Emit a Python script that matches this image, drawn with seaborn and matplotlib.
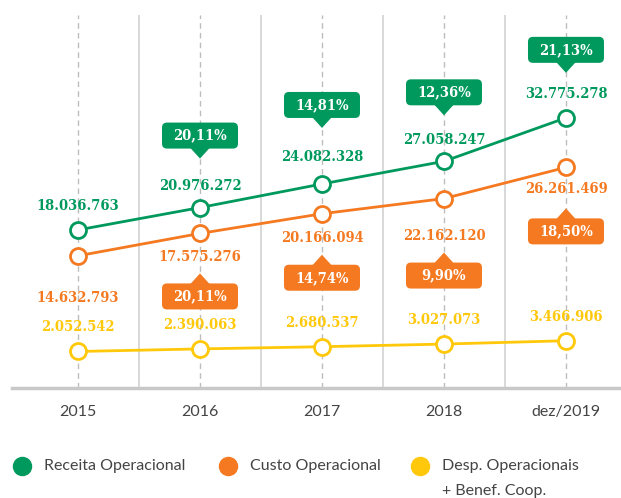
import numpy as np
import pandas as pd
import matplotlib
matplotlib.use('Agg')
import matplotlib.pyplot as plt
import matplotlib.transforms as mtransforms
from matplotlib.patches import FancyBboxPatch, Polygon
from matplotlib.lines import Line2D
import seaborn as sns

# data
anos = ['2015', '2016', '2017', '2018', 'dez/2019']
receita = [18036763, 20976272, 24082328, 27058247, 32775278]
custo = [14632793, 17575276, 20166094, 22162120, 26261469]
despesas = [2052542, 2390063, 2680537, 3027073, 3466906]
receita_var = [None, 20.11, 14.81, 12.36, 21.13]
custo_var = [None, 20.11, 14.74, 9.90, 18.50]

series = ['Receita Operacional', 'Custo Operacional', 'Desp. Operacionais\n+ Benef. Coop.']
cores = ['#00995D', '#F47920', '#FFC80A']

df = pd.DataFrame({
    'pos': list(range(len(anos))) * 3,
    'valor': receita + custo + despesas,
    'serie': np.repeat(series, len(anos)),
})

# label / callout offsets in pixels (layout only)
off_receita = [24, 22, 27, 21, 24]
off_custo = [-42, -24, -24, -37, -22]
off_desp = [24, 24, 24, 24, 24]
box_receita = [None, 72, 79, 69, 68]
box_custo = [None, -63, -64, -77, -64]

sns.set_style('white')
plt.rcParams['savefig.dpi'] = 100

fig = plt.figure(figsize=(6.21, 4.98), dpi=100)
ax = fig.add_axes([12 / 621, 110 / 498, 609 / 621, 373 / 498])

sns.lineplot(data=df, x='pos', y='valor', hue='serie', palette=cores, hue_order=series,
             marker='o', markersize=11.5, mfc='white', mew=2, linewidth=2,
             errorbar=None, legend=False, ax=ax, zorder=3)
for line in ax.lines:
    line.set_markeredgecolor(line.get_color())

ax.set_xlim(-0.541, 4.451)
ax.set_ylim(-2.75e6, 46.3e6)

for i in range(len(anos)):
    ax.axvline(i, color='#bdbdbd', lw=1, ls=(0, (4, 3)), zorder=0.5)
for i in range(len(anos) - 1):
    ax.axvline(i + 0.5, color='#d2d2d2', lw=1.2, zorder=0.5)

for s in ['top', 'right', 'left']:
    ax.spines[s].set_visible(False)
ax.spines['bottom'].set_color('#c8c8c8')
ax.spines['bottom'].set_linewidth(2.5)

ax.set_xticks(range(len(anos)))
ax.set_xticklabels(anos, fontsize=11.5, color='#444444', family='Lato')
ax.tick_params(axis='x', length=0, pad=12)
ax.set_yticks([])
ax.set_xlabel('')
ax.set_ylabel('')


def fmt(v):
    return f'{v:,}'.replace(',', '.')


valfont = dict(family='DejaVu Serif', weight='bold', fontsize=10.5, fontstretch='condensed')
for vals, offs, cor in [(receita, off_receita, cores[0]),
                        (custo, off_custo, cores[1]),
                        (despesas, off_desp, cores[2])]:
    for i, v in enumerate(vals):
        ax.annotate(fmt(v), (i, v), xytext=(0, offs[i]), textcoords='offset pixels',
                    ha='center', va='center', color=cor, zorder=4, **valfont)


def callout(x, y, pct, cor, dy):
    tr = mtransforms.IdentityTransform() + mtransforms.ScaledTranslation(x, y, ax.transData)
    w, h, th, tw = 76, 26, 10, 10
    ax.add_patch(FancyBboxPatch((-w / 2, dy - h / 2), w, h,
                                boxstyle='round,pad=0,rounding_size=5',
                                fc=cor, ec='none', transform=tr, zorder=5))
    if dy > 0:
        edge = dy - h / 2
        tri = [(-tw, edge + 1), (tw, edge + 1), (0, edge - th)]
    else:
        edge = dy + h / 2
        tri = [(-tw, edge - 1), (tw, edge - 1), (0, edge + th)]
    ax.add_patch(Polygon(tri, closed=True, fc=cor, ec='none', transform=tr, zorder=5))
    ax.text(0, dy, f'{pct:.2f}%'.replace('.', ','), transform=tr, ha='center',
            va='center', color='white', zorder=6, **valfont)


for i in range(1, len(anos)):
    callout(i, receita[i], receita_var[i], cores[0], box_receita[i])
    callout(i, custo[i], custo_var[i], cores[1], box_custo[i])

# legend drawn by hand so the two-line label lines up like the original
leg_x = [22, 228, 420]
for nome, cor, lx in zip(series, cores, leg_x):
    fig.add_artist(Line2D([lx / 621], [1 - 466 / 498], marker='o', ms=13, color=cor,
                          lw=0, transform=fig.transFigure))
    for k, parte in enumerate(nome.split('\n')):
        fig.text((lx + 22) / 621, 1 - (466 + 25 * k) / 498, parte, ha='left', va='center',
                 fontsize=11.5, color='#444444', family='Lato')

fig.savefig('out.png', dpi=100)
